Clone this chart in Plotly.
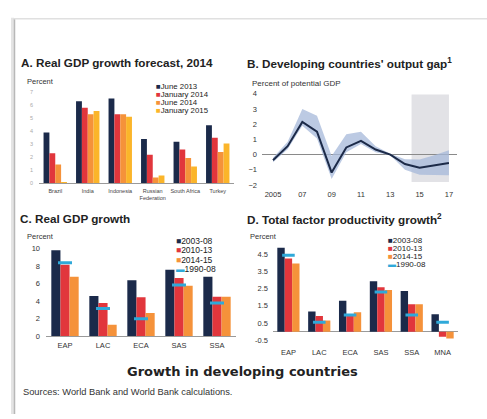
import plotly.graph_objects as go

# ---------------- data ----------------
# Panel A
a_countries = ["Brazil", "India", "Indonesia", "Russian<br>Federation", "South Africa", "Turkey"]
a_series = ["June 2013", "January 2014", "June 2014", "January 2015"]
a_jun13 = [3.9, 6.3, 6.5, 3.4, 3.2, 4.45]
a_jan14 = [2.3, 5.8, 5.3, 2.2, 2.6, 3.5]
a_jun14 = [1.45, 5.3, 5.3, 0.45, 1.95, 2.4]
a_jan15 = [0.1, 5.55, 5.1, 0.6, 1.3, 3.05]
a_ticks = [0, 1, 2, 3, 4, 5, 6, 7]

# Panel B
b_years = list(range(2005, 2018))
b_gap = [-0.37, 0.55, 2.15, 1.5, -1.18, 0.47, 0.9, 0.33, 0.0, -0.62, -0.86, -0.7, -0.55]
b_upper = [-0.2, 0.85, 3.0, 2.55, -0.1, 1.33, 1.5, 0.55, 0.05, -0.3, -0.32, -0.05, 0.28]
b_lower = [-0.5, 0.35, 1.9, 1.05, -1.6, 0.15, 0.7, 0.15, -0.05, -1.0, -1.33, -1.35, -1.35]
b_forecast_x = [2014.45, 2017.0]
b_forecast_y = [-1.8, 3.95]
b_ticks = [2005, 2007, 2009, 2011, 2013, 2015, 2017]
b_ticktext = ["2005", "07", "09", "11", "13", "15", "17"]

# Panel C
c_regions = ["EAP", "LAC", "ECA", "SAS", "SSA"]
c_series = ["2003-08", "2010-13", "2014-15", "1990-08"]
c_0308 = [9.8, 4.6, 6.4, 7.6, 6.8]
c_1013 = [8.15, 3.8, 4.45, 6.65, 4.5]
c_1415 = [6.8, 1.3, 2.65, 5.75, 4.5]
c_9008 = [8.4, 3.15, 2.0, 5.85, 3.8]
c_ticks = [0, 2, 4, 6, 8, 10]

# Panel D
d_regions = ["EAP", "LAC", "ECA", "SAS", "SSA", "MNA"]
d_0308 = [4.86, 1.17, 1.79, 2.92, 2.36, 1.02]
d_1013 = [4.24, 0.92, 0.94, 2.58, 1.6, -0.28]
d_1415 = [3.94, 0.66, 1.13, 2.41, 1.6, -0.38]
d_9008 = [4.42, 0.55, 0.98, 2.3, 0.98, 0.56]
d_ticks = [-0.5, 0.5, 1.5, 2.5, 3.5, 4.5]

# ---------------- styling ----------------
W, H = 487, 419
NAVY, RED, ORANGE, YELLOW, TEAL = "#1b2a4a", "#e1363c", "#f5923a", "#fbb52a", "#2fa9d9"
FONT = "Liberation Sans"


def X(px):
    return px / W


def Y(py):
    return 1 - py / H


fig = go.Figure()

# Panel A bars
for name, vals, col in zip(a_series, [a_jun13, a_jan14, a_jun14, a_jan15], [NAVY, RED, ORANGE, YELLOW]):
    fig.add_trace(go.Bar(x=a_countries, y=vals, name=name, marker=dict(color=col, line=dict(width=0)),
                         xaxis="x", yaxis="y", showlegend=False))

# Panel B band + line
fig.add_trace(go.Scatter(x=b_years, y=b_lower, mode="lines", line=dict(width=0, color="#b4c3df"),
                         xaxis="x2", yaxis="y2", showlegend=False, hoverinfo="skip"))
fig.add_trace(go.Scatter(x=b_years, y=b_upper, mode="lines", line=dict(width=0, color="#b4c3df"),
                         fill="tonexty", fillcolor="rgba(165,184,218,0.75)",
                         xaxis="x2", yaxis="y2", showlegend=False, hoverinfo="skip"))
fig.add_trace(go.Scatter(x=b_years, y=b_gap, mode="lines", line=dict(width=2, color="#1c2a48"),
                         xaxis="x2", yaxis="y2", showlegend=False))

# Panel C
for name, vals, col in zip(c_series[:3], [c_0308, c_1013, c_1415], [NAVY, RED, ORANGE]):
    fig.add_trace(go.Bar(x=c_regions, y=vals, name=name, marker=dict(color=col, line=dict(width=0)),
                         xaxis="x3", yaxis="y3", showlegend=False))
fig.add_trace(go.Scatter(x=c_regions, y=c_9008, mode="markers", name=c_series[3],
                         marker=dict(symbol="line-ew", size=10, color=TEAL, line=dict(width=3, color=TEAL)),
                         xaxis="x3", yaxis="y3", showlegend=False))

# Panel D
for name, vals, col in zip(c_series[:3], [d_0308, d_1013, d_1415], [NAVY, RED, ORANGE]):
    fig.add_trace(go.Bar(x=d_regions, y=vals, name=name, marker=dict(color=col, line=dict(width=0)),
                         xaxis="x4", yaxis="y4", showlegend=False))
fig.add_trace(go.Scatter(x=d_regions, y=d_9008, mode="markers", name=c_series[3],
                         marker=dict(symbol="line-ew", size=9, color=TEAL, line=dict(width=3, color=TEAL)),
                         xaxis="x4", yaxis="y4", showlegend=False))

tick_font = dict(family=FONT, size=7.5, color="#333")

fig.update_layout(
    width=W, height=H, autosize=False,
    margin=dict(l=0, r=0, t=0, b=0),
    paper_bgcolor="white", plot_bgcolor="rgba(0,0,0,0)",
    barmode="group", bargap=0.28, bargroupgap=0,
    font=dict(family=FONT, color="#222"),
    # Panel A
    xaxis=dict(domain=[X(39), X(234)], anchor="y", showgrid=False, zeroline=False,
               showline=True, linecolor="#9a9a9a", linewidth=1, ticks="",
               tickfont=dict(family=FONT, size=5.5, color="#444"), ticklabelstandoff=2),
    yaxis=dict(domain=[Y(183.3), Y(88)], anchor="x", range=[0, 7.15], tickvals=a_ticks,
               showgrid=False, zeroline=False, showline=False, ticks="",
               tickfont=dict(family=FONT, size=5.5, color="#aaa"), ticklabelstandoff=5),
    # Panel B
    xaxis2=dict(domain=[X(262), X(457)], anchor="y2", range=[2004.25, 2017.55],
                tickvals=b_ticks, ticktext=b_ticktext, showgrid=False, zeroline=False,
                showline=False, ticks="", tickfont=tick_font, ticklabelstandoff=3),
    yaxis2=dict(domain=[Y(185), Y(91.7)], anchor="x2", range=[-2, 4], dtick=1,
                showgrid=False, zeroline=True, zerolinecolor="#8a8a8a", zerolinewidth=1,
                showline=False, ticks="", tickfont=tick_font, ticklabelstandoff=4),
    # Panel C
    xaxis3=dict(domain=[X(46), X(236)], anchor="y3", showgrid=False, zeroline=False,
                showline=True, linecolor="#9a9a9a", linewidth=1, ticks="",
                tickfont=tick_font, ticklabelstandoff=2),
    yaxis3=dict(domain=[Y(339.5), Y(248.2)], anchor="x3", range=[0, 10.2], tickvals=c_ticks,
                showgrid=False, zeroline=False, showline=False, ticks="",
                tickfont=tick_font, ticklabelstandoff=5),
    # Panel D
    xaxis4=dict(domain=[X(273), X(458)], anchor="y4", showgrid=False, zeroline=False,
                showline=False, ticks="", tickfont=tick_font, ticklabelstandoff=5),
    yaxis4=dict(domain=[Y(344.8), Y(247.4)], anchor="x4", range=[-0.55, 4.95], tickvals=d_ticks,
                ticktext=[f"{v:g}" for v in d_ticks],
                showgrid=False, zeroline=True, zerolinecolor="#9a9a9a", zerolinewidth=1,
                showline=False, ticks="", tickfont=tick_font, ticklabelstandoff=4),
)

# forecast shading in panel B
fig.add_shape(type="rect", xref="x2", yref="y2", x0=b_forecast_x[0], x1=b_forecast_x[1],
              y0=b_forecast_y[0], y1=b_forecast_y[1], fillcolor="#e2e2e6", line=dict(width=0), layer="below")

# card border / shadow
fig.add_shape(type="line", xref="paper", yref="paper", x0=X(12.5), x1=X(12.5), y0=Y(14), y1=0,
              line=dict(color="#e4e4e4", width=3))
fig.add_shape(type="line", xref="paper", yref="paper", x0=X(14.5), x1=X(14.5), y0=Y(15), y1=0,
              line=dict(color="#b8b8b8", width=1.5))
fig.add_shape(type="line", xref="paper", yref="paper", x0=X(14), x1=1, y0=Y(15), y1=Y(15),
              line=dict(color="#e0e0e0", width=1.5))

ann = []


def text(s, x, y, size, bold=False, color="#222", xanchor="left", family=FONT):
    ann.append(dict(text=f"<b>{s}</b>" if bold else s, x=X(x), y=Y(y), xref="paper", yref="paper",
                    xanchor=xanchor, yanchor="middle", showarrow=False, borderpad=0,
                    font=dict(family=family, size=size, color=color)))


# titles
text("A. Real GDP growth forecast, 2014", 20, 60, 11.7, bold=True)
text("B. Developing countries' output gap<sup>1</sup>", 246, 60, 11.7, bold=True)
text("C. Real GDP growth", 19, 219, 11.7, bold=True)
text("D. Total factor productivity growth<sup>2</sup>", 246, 220, 11.7, bold=True)
# axis unit labels
text("Percent", 26, 79, 7.5, color="#333")
text("Percent of potential GDP", 251, 81, 8, color="#333")
text("Percent", 26, 238, 7.5, color="#333")
text("Percent", 249, 238, 7.5, color="#333")
# caption and source
text("Growth in developing countries", 242, 376, 13, bold=True, xanchor="center", family="DejaVu Sans")
text("Sources: World Bank and World Bank calculations.", 22, 397, 9.3, color="#333")


def legend(names, colors, symbols, x, y0, step, size):
    for i, (n, c, s) in enumerate(zip(names, colors, symbols)):
        text(f"<span style='color:{c}'>{s}</span>{n}", x, y0 + i * step, size, color="#222")


legend(a_series, [NAVY, RED, ORANGE, YELLOW], ["■", "■", "■", "■"], 155, 84, 8.3, 7.8)
legend(c_series, [NAVY, RED, ORANGE, TEAL], ["■", "■", "■", "▬"], 175, 241.7, 9.8, 8.5)
legend(c_series, [NAVY, RED, ORANGE, TEAL], ["■", "■", "■", "▬"], 387, 241.5, 8.3, 8)

fig.update_layout(annotations=ann)

fig.write_html("out.html")
